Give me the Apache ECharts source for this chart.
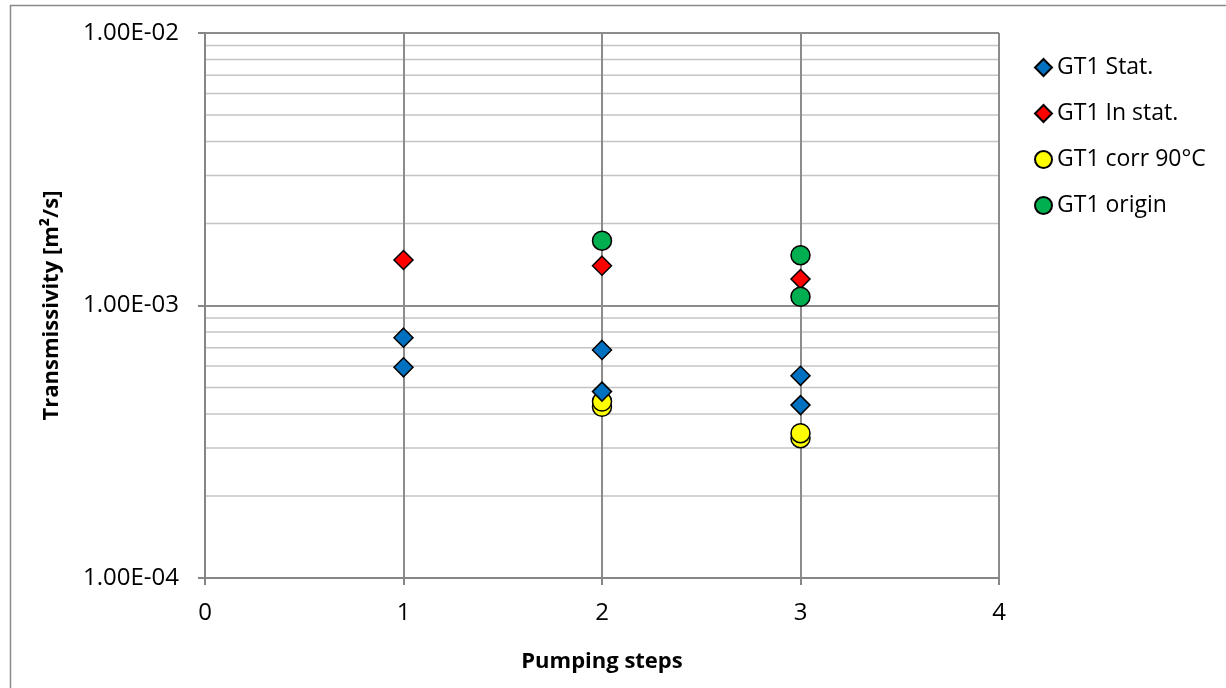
<!DOCTYPE html>
<html>
<head>
<meta charset="utf-8">
<script src="https://cdn.jsdelivr.net/npm/echarts@6/dist/echarts.min.js"></script>
<style>
html,body{margin:0;padding:0;background:#fff;}
#chart{width:1226px;height:688px;}
</style>
</head>
<body>
<div id="chart"></div>
<script>
// ---- data ----
const seriesNames = ['GT1 Stat.', 'GT1 In stat.', 'GT1 corr 90°C', 'GT1 origin'];
const gt1Stat = [[1, 7.62e-4], [1, 5.93e-4], [2, 6.87e-4], [2, 4.83e-4], [3, 5.52e-4], [3, 4.31e-4]];
const gt1InStat = [[1, 1.469e-3], [2, 1.40e-3], [3, 1.25e-3]];
const gt1Corr90 = [[2, 4.25e-4], [2, 4.44e-4], [3, 3.26e-4], [3, 3.40e-4]];
const gt1Origin = [[2, 1.73e-3], [3, 1.077e-3], [3, 1.53e-3]];
const xTicks = [0, 1, 2, 3, 4];
const yMajor = [1e-4, 1e-3, 1e-2];
const yMinor = [2e-4, 3e-4, 4e-4, 5e-4, 6e-4, 7e-4, 8e-4, 9e-4, 2e-3, 3e-3, 4e-3, 5e-3, 6e-3, 7e-3, 8e-3, 9e-3];

const FONT = '"Open Sans", "Liberation Sans", sans-serif';

function fmtExp(v) {
  const e = Math.round(Math.log10(v));
  const m = v / Math.pow(10, e);
  const sign = e < 0 ? '-' : '+';
  const a = Math.abs(e);
  return m.toFixed(2) + 'E' + sign + (a < 10 ? '0' + a : a);
}

const chart = echarts.init(document.getElementById('chart'), null, {renderer: 'canvas'});
const markerBorder = {borderColor: '#000', borderWidth: 1.5, opacity: 1};

const xMin = xTicks[0], xMax = xTicks[xTicks.length - 1];
const minorSeries = yMinor.map(v => ({
  name: 'minor-grid', type: 'line', silent: true, z: -1,
  data: [[xMin, v], [xMax, v]],
  symbol: 'none', showSymbol: false,
  lineStyle: {color: '#c4c4c4', width: 1.5},
  emphasis: {disabled: true}, tooltip: {show: false}
}));

const option = {
  backgroundColor: '#fff',
  animation: false,
  graphic: [{
    type: 'rect', silent: true, z: -10,
    shape: {x: 10.5, y: 5.5, width: 1400, height: 900},
    style: {fill: null, stroke: '#8a8a8a', lineWidth: 1.5}
  }],
  grid: {left: 205, right: 227, top: 33, bottom: 110, containLabel: false},
  legend: {
    orient: 'vertical', left: 1029, top: 51,
    itemWidth: 17, itemHeight: 17, itemGap: 23,
    data: seriesNames,
    textStyle: {fontFamily: FONT, fontSize: 23, color: '#000', lineHeight: 22, padding: [0, 0, 0, 0]}
  },
  xAxis: {
    type: 'value', min: xMin, max: xMax, interval: 1,
    name: 'Pumping steps', nameLocation: 'middle', nameGap: 73,
    nameTextStyle: {fontFamily: FONT, fontSize: 22, fontWeight: 'bold', color: '#000'},
    axisLine: {show: true, onZero: false, lineStyle: {color: '#868686', width: 2}},
    axisTick: {show: true, length: 7, inside: false, lineStyle: {color: '#868686', width: 2}},
    axisLabel: {fontFamily: FONT, fontSize: 24, color: '#000', margin: 23,
      formatter: v => xTicks.includes(v) ? String(v) : ''},
    splitLine: {show: true, lineStyle: {color: '#8c8c8c', width: 2}}
  },
  yAxis: {
    type: 'log', logBase: 10, min: yMajor[0], max: yMajor[yMajor.length - 1],
    name: 'Transmissivity [m²/s]', nameLocation: 'middle', nameGap: 142, nameRotate: 90,
    nameTextStyle: {fontFamily: FONT, fontSize: 22, fontWeight: 'bold', color: '#000'},
    axisLine: {show: true, lineStyle: {color: '#868686', width: 2}},
    axisTick: {show: true, length: 7, lineStyle: {color: '#868686', width: 2}},
    axisLabel: {fontFamily: FONT, fontSize: 24, color: '#000', margin: 26, formatter: v => fmtExp(v)},
    splitLine: {show: true, lineStyle: {color: '#8c8c8c', width: 2}},
    minorTick: {show: false}, minorSplitLine: {show: false}
  },
  series: minorSeries.concat([
    {
      name: seriesNames[0], type: 'scatter', data: gt1Stat, z: 4,
      symbol: 'diamond', symbolSize: 19,
      itemStyle: Object.assign({color: '#0070C0'}, markerBorder)
    },
    {
      name: seriesNames[1], type: 'scatter', data: gt1InStat, z: 4,
      symbol: 'diamond', symbolSize: 19,
      itemStyle: Object.assign({color: '#FF0000'}, markerBorder)
    },
    {
      name: seriesNames[2], type: 'scatter', data: gt1Corr90, z: 3,
      symbol: 'circle', symbolSize: 19,
      itemStyle: Object.assign({color: '#FFFF00'}, markerBorder)
    },
    {
      name: seriesNames[3], type: 'scatter', data: gt1Origin, z: 5,
      symbol: 'circle', symbolSize: 19,
      itemStyle: Object.assign({color: '#00B050'}, markerBorder)
    }
  ])
};
chart.setOption(option);
</script>
</body>
</html>
